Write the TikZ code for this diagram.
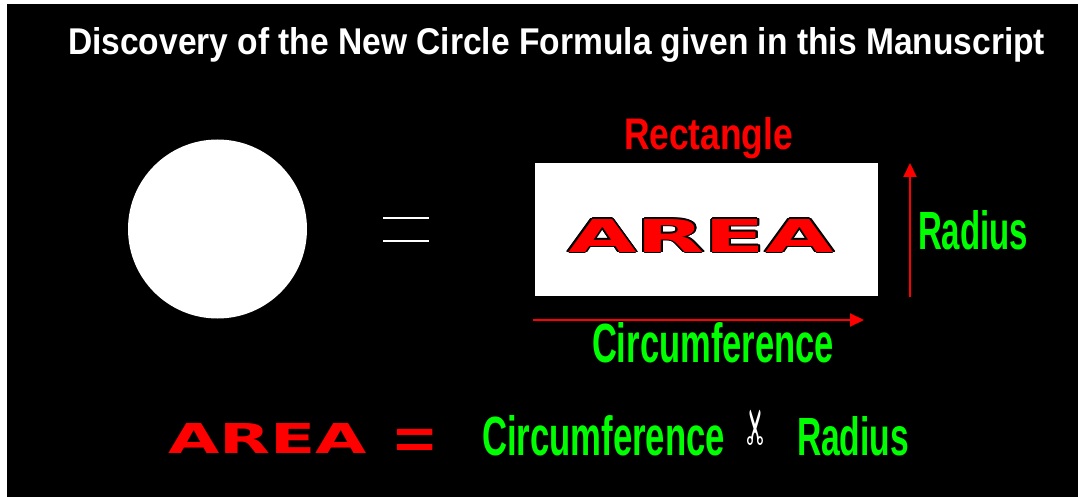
\documentclass[tikz,border=0pt]{standalone}
\usepackage{fontspec}
\setmainfont{Liberation Sans}
\newfontfamily\symfont{DejaVu Sans}
\newfontfamily\widefont{DejaVu Sans}
\usepackage{graphicx}
\usepackage{contour}
\usetikzlibrary{arrows.meta}
\definecolor{brightgreen}{HTML}{00FF00}
\definecolor{brightred}{HTML}{FF0000}
\newcommand{\fitto}[3]{\resizebox{#1pt}{#2pt}{\bfseries #3}}
\newcommand{\fitwide}[3]{\resizebox{#1pt}{#2pt}{\fontsize{40}{40}\widefont\bfseries #3}}

\begin{document}
\begin{tikzpicture}[x=1pt,y=-1pt,>=Latex,line cap=butt]
  \tikzset{txt/.style={inner sep=0,outer sep=0,anchor=base west},
    redarrow/.style={draw=brightred,line width=2pt,-{Triangle[length=14pt,width=13pt]}}}
  \useasboundingbox (0,0) rectangle (1078,497);
  \fill[white] (0,0) rectangle (1078,497);
  \fill[black] (7,4) rectangle (1078,497);
  % title
  \node[txt,white] (title) at (68,55) {\fitto{977}{27}{Discovery of the New Circle Formula given in this Manuscript}};
  % circle = rectangle
  \node[circle,fill=white,minimum size=179pt,inner sep=0] (disc) at (217.5,229) {};
  \draw[white,line width=1.6pt] (383,218) -- (429,218);
  \draw[white,line width=1.6pt] (383,241) -- (429,241);
  \node[fill=white,minimum width=343pt,minimum height=133pt,inner sep=0] (rect) at (706.5,229.5) {};
  \node[txt,brightred] (rectname) at (624,150) {\fitto{169}{32}{Rectangle}};
  \node[txt] (area) at (568,252) {\contourlength{0.9pt}\fitwide{266}{33}{\contour{black}{\textcolor{brightred}{AREA}}}};
  % sides
  \coordinate (rad0) at (910,297);
  \coordinate (rad1) at (910,163);
  \draw[redarrow] (rad0) -- (rad1);
  \node[txt,brightgreen] (radname) at (918,249) {\fitto{110}{39}{Radius}};
  \coordinate (circ0) at (533,320);
  \coordinate (circ1) at (864,320);
  \draw[redarrow] (circ0) -- (circ1);
  \node[txt,brightgreen] (circname) at (592,362) {\fitto{242}{40}{Circumference}};
  % formula
  \node[txt,brightred] (farea) at (168,453) {\fitwide{199}{30}{AREA}};
  \node[txt,brightred] (feq) at (394.5,458) {\scalebox{1.26}[1]{\fontsize{56}{56}\bfseries =}};
  \node[txt,brightgreen] (fcirc) at (482,455) {\fitto{243}{40}{Circumference}};
  \node[white,inner sep=0,rotate=90] (ftimes) at (757.5,427) {\resizebox*{40pt}{21pt}{\symfont ✂}};
  \node[txt,brightgreen] (frad) at (797,455) {\fitto{112}{39}{Radius}};
\end{tikzpicture}
\end{document}
